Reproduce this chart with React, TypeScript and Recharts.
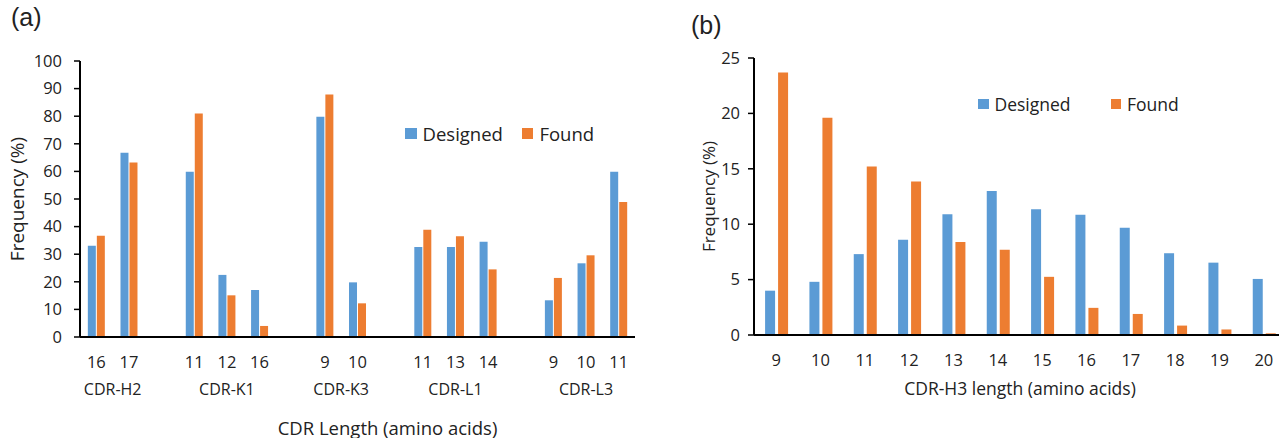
import { BarChart, Bar, XAxis, YAxis, Legend, Label } from 'recharts';

const BLUE = '#5B9BD5';
const ORANGE = '#ED7D31';
const INK = '#222';

// panel (a): empty slots keep the CDR groups apart
const lengthsA = ['16', '17', '', '11', '12', '16', '', '9', '10', '', '11', '13', '14', '', '9', '10', '11'];
const groupsA = [
  'CDR-H2', 'CDR-H2', '',
  'CDR-K1', 'CDR-K1', 'CDR-K1', '',
  'CDR-K3', 'CDR-K3', '',
  'CDR-L1', 'CDR-L1', 'CDR-L1', '',
  'CDR-L3', 'CDR-L3', 'CDR-L3',
];
const designedA = [33.1, 66.8, null, 59.9, 22.5, 17, null, 79.8, 19.8, null, 32.6, 32.6, 34.5, null, 13.3, 26.7, 59.9];
const foundA = [36.7, 63.2, null, 81, 15.1, 4, null, 87.9, 12.2, null, 38.9, 36.5, 24.5, null, 21.4, 29.6, 48.9];
const ticksA = [0, 10, 20, 30, 40, 50, 60, 70, 80, 90, 100];

// panel (b): CDR-H3 length
const lengthsB = ['9', '10', '11', '12', '13', '14', '15', '16', '17', '18', '19', '20'];
const designedB = [4.0, 4.8, 7.3, 8.6, 10.9, 13.0, 11.35, 10.85, 9.67, 7.38, 6.53, 5.06];
const foundB = [23.7, 19.6, 15.2, 13.85, 8.4, 7.7, 5.25, 2.45, 1.9, 0.85, 0.5, 0.15];
const ticksB = [0, 5, 10, 15, 20, 25];

const dataA = lengthsA.map((len, i) => ({ slot: i, len, designed: designedA[i], found: foundA[i] }));
const dataB = lengthsB.map((len, i) => ({ len, designed: designedB[i], found: foundB[i] }));

const PLOT_A_W = 555;
const slotA = PLOT_A_W / lengthsA.length;

function TickA(props: any) {
  const { x, y, payload } = props;
  const i = payload.index;
  const g = groupsA[i];
  let groupText = null;
  if (g && groupsA[i - 1] !== g) {
    let n = 0;
    while (groupsA[i + n] === g) n++;
    groupText = (
      <text x={x + ((n - 1) / 2) * slotA} y={y + 52} textAnchor="middle" dominantBaseline="central" fontSize={16} fill={INK}>
        {g}
      </text>
    );
  }
  return (
    <g>
      <text x={x} y={y + 24} textAnchor="middle" dominantBaseline="central" fontSize={16.5} fill={INK}>
        {lengthsA[i]}
      </text>
      {groupText}
    </g>
  );
}

function TickB(props: any) {
  const { x, y, payload } = props;
  return (
    <text x={x} y={y + 24} textAnchor="middle" dominantBaseline="central" fontSize={16.5} fill={INK}>
      {payload.value}
    </text>
  );
}

const yTitle = (dx: number, fs: number) => (props: any) => {
  const vb = props.viewBox;
  const cx = vb.x + dx;
  const cy = vb.y + vb.height / 2;
  return (
    <text x={cx} y={cy} transform={`rotate(-90 ${cx} ${cy})`} textAnchor="middle" dominantBaseline="central" fontSize={fs} fill={INK}>
      {props.value}
    </text>
  );
};

const xTitle = (dx: number, dy: number, fs: number) => (props: any) => {
  const vb = props.viewBox;
  return (
    <text x={vb.x + vb.width / 2 + dx} y={vb.y + dy} textAnchor="middle" dominantBaseline="central" fontSize={fs} fill={INK}>
      {props.value}
    </text>
  );
};

const legendContent = (gap: number, box: number, fs: number) => (props: any) => (
  <div style={{ display: 'flex', alignItems: 'center', fontSize: fs, color: INK, whiteSpace: 'nowrap' }}>
    {props.payload.map((p: any, i: number) => (
      <span key={p.value} style={{ display: 'flex', alignItems: 'center', marginLeft: i ? gap : 0 }}>
        <span style={{ width: box, height: box, background: p.color, marginRight: 6, display: 'inline-block' }} />
        {p.value}
      </span>
    ))}
  </div>
);

const axisLine = { stroke: '#000', strokeWidth: 2 };
const tickLine = { stroke: '#000', strokeWidth: 1.5 };

export default function App() {
  return (
    <div
      style={{
        position: 'absolute',
        left: 0,
        top: 0,
        width: 1279,
        height: 438,
        overflow: 'hidden',
        background: '#fff',
        fontFamily: '"Open Sans", sans-serif',
      }}
    >
      <div style={{ position: 'absolute', left: 11, top: 5, fontFamily: '"Liberation Sans", Arial, sans-serif', fontSize: 25, lineHeight: 1, color: INK }}>
        (a)
      </div>
      <div style={{ position: 'absolute', left: 691, top: 13, fontFamily: '"Liberation Sans", Arial, sans-serif', fontSize: 25, lineHeight: 1, color: INK }}>
        (b)
      </div>

      <div style={{ position: 'absolute', left: 0, top: 0 }}>
        <BarChart
          width={660}
          height={438}
          data={dataA}
          margin={{ top: 61, right: 25, bottom: 1, left: 0 }}
          barCategoryGap="24%"
          barGap={1}
        >
          <XAxis dataKey="slot" height={100} interval={0} tickSize={0} tickMargin={0} tickLine={false} axisLine={axisLine} tick={<TickA />}>
            <Label value="CDR Length (amino acids)" content={xTitle(30, 90, 18.5)} />
          </XAxis>
          <YAxis width={80} domain={[0, 100]} ticks={ticksA} interval={0} tickSize={6} tickMargin={12} axisLine={axisLine} tickLine={tickLine} tick={{ fontSize: 16.5, fill: INK }}>
            <Label value="Frequency (%)" content={yTitle(17, 19)} />
          </YAxis>
          <Legend
            layout="horizontal"
            verticalAlign="middle"
            align="center"
            wrapperStyle={{ left: 405, top: 121, width: 'auto' }}
            content={legendContent(19, 11.5, 18.5)}
          />
          <Bar dataKey="designed" name="Designed" fill={BLUE} isAnimationActive={false} />
          <Bar dataKey="found" name="Found" fill={ORANGE} isAnimationActive={false} />
        </BarChart>
      </div>

      <div style={{ position: 'absolute', left: 680, top: 0 }}>
        <BarChart
          width={611}
          height={438}
          data={dataB}
          margin={{ top: 58, right: 5, bottom: 3, left: 0 }}
          barCategoryGap="25%"
          barGap={3}
        >
          <XAxis dataKey="len" height={100} interval={0} tickSize={0} tickMargin={0} tickLine={false} axisLine={axisLine} tick={<TickB />}>
            <Label value="CDR-H3 length (amino acids)" content={xTitle(0, 53, 17.5)} />
          </XAxis>
          <YAxis width={74} domain={[0, 25]} ticks={ticksB} interval={0} tickSize={6} tickMargin={8} axisLine={axisLine} tickLine={tickLine} tick={{ fontSize: 16.5, fill: INK }}>
            <Label value="Frequency (%)" content={yTitle(28, 17)} />
          </YAxis>
          <Legend
            layout="horizontal"
            verticalAlign="middle"
            align="center"
            wrapperStyle={{ left: 298, top: 92, width: 'auto' }}
            content={legendContent(40, 10.5, 17.5)}
          />
          <Bar dataKey="designed" name="Designed" fill={BLUE} isAnimationActive={false} />
          <Bar dataKey="found" name="Found" fill={ORANGE} isAnimationActive={false} />
        </BarChart>
      </div>
    </div>
  );
}
